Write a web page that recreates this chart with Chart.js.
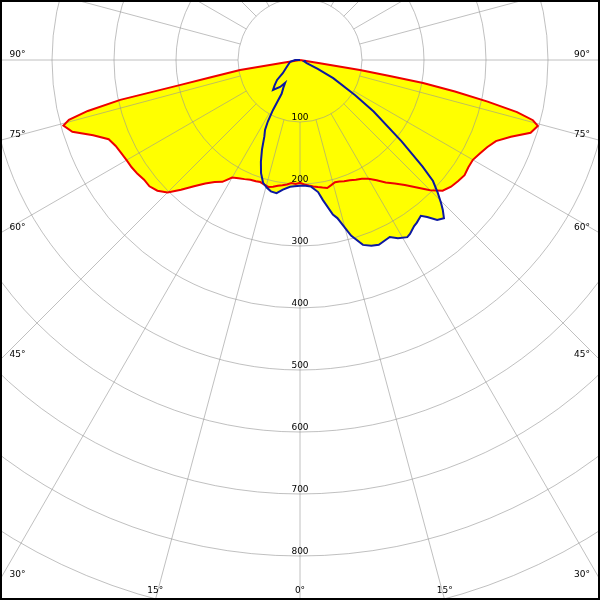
<!DOCTYPE html>
<html>
<head>
<meta charset="utf-8">
<script src="https://cdn.jsdelivr.net/npm/chart.js@4.4.1/dist/chart.umd.min.js"></script>
<style>
  body { margin: 0; background: #fff; }
  canvas { display: block; }
</style>
</head>
<body>
<canvas id="polar-chart" width="600" height="600"></canvas>
<script>
// Luminous intensity (cd) vs gamma angle, per half-plane
const redLeftAngles  = [0, 2, 4, 6, 8, 10, 12, 14, 16, 18, 20, 22.5, 25, 27.5, 30, 32.5, 35, 37.5, 40, 42.5, 45, 47.5, 50, 52.5, 55, 57.5, 60, 62.5, 65, 67.5, 70, 72.5, 74.5, 75.5, 76.5, 77.5, 78.2, 79, 80.5, 81, 82, 90];
const redLeftValues  = [198, 200, 199, 202, 204, 206, 209, 211, 209, 207, 208, 209, 212, 215, 219, 233, 240, 251, 266, 284, 302, 312, 317, 317, 320, 322, 323, 325, 328, 334, 355, 385, 396, 385, 352, 297, 200, 148, 98, 30, 0, 0];
const redRightAngles = [0, 2, 4, 6, 8, 10, 12, 14, 16, 18, 20, 22.5, 25, 27.5, 30, 32.5, 35, 37.5, 40, 42.5, 45, 47.5, 50, 52.5, 55, 57.5, 60, 62.5, 65, 67.5, 70, 72.5, 74.5, 75.5, 76.5, 77.5, 78.5, 79.4, 79.9, 80.5, 81, 82, 90];
const redRightValues = [198, 201, 203, 205, 207, 209, 211, 208, 205, 206, 208, 210, 213, 216, 221, 230, 241, 251, 263, 279, 297, 312, 318, 321, 324, 322, 322, 327, 333, 342, 362, 390, 398, 388, 360, 310, 255, 202, 147, 98, 30, 0, 0];

const blueLeftAngles  = [0, 2.5, 4.5, 7.5, 10, 12.5, 14.5, 16.7, 19, 21, 23, 25, 26.6, 27.6, 28.4, 28.6, 31, 33, 36.5, 42, 45, 49, 52.6, 60, 67.4, 80, 90, 180];
const blueLeftValues  = [203, 204, 205, 211, 218, 217, 213, 207, 193, 176, 157, 136, 126, 112, 92, 62, 52, 44, 54, 65, 58, 49, 35, 26, 21, 16, 8, 0];
const blueRightAngles = [0, 2.5, 5, 7.8, 9.3, 12, 13.3, 16.2, 18.8, 21, 23.1, 25.9, 26.9, 28.8, 31.2, 32.3, 34.5, 35.7, 37.8, 39, 40.6, 42.3, 43.6, 44.6, 46.1, 47.7, 49, 51.3, 55, 57.5, 61.4, 63.4, 65, 70, 90];
const blueRightValues = [203, 203, 205, 215, 229, 255, 262, 295, 315, 321, 324, 321, 320, 328, 334, 332, 325, 323, 318, 326, 340, 345, 334, 324, 308, 290, 262, 210, 145, 105, 61, 32, 12, 8, 8];

const ringValues  = [100, 200, 300, 400, 500, 600, 700, 800, 900, 1000];
const ringLabels  = ['100', '200', '300', '400', '500', '600', '700', '800'];
const spokeAngles = [0, 15, 30, 45, 60, 75, 90, 105, 120, 135, 150, 165, 180, 195, 210, 225, 240, 255, 270, 285, 300, 315, 330, 345];
const angleLabels = [0, 15, 30, 45, 60, 75, 90];

const PX_PER_CD = 0.62;
const gridColor = 'rgba(150,150,150,0.6)';

function toXY(angles, values, side) {
    return angles.map((a, i) => {
        const rad = a * Math.PI / 180;
        return { x: side * values[i] * Math.sin(rad), y: values[i] * Math.cos(rad) };
    });
}

// left half from 90 down to 0, then right half from 0 up to 90
function buildCurve(lA, lV, rA, rV) {
    const left = toXY(lA, lV, -1).reverse();
    const right = toXY(rA, rV, 1);
    return left.concat(right.slice(1));
}

const polarGrid = {
    id: 'polarGrid',
    beforeDatasetsDraw(chart) {
        const { ctx, scales: { x, y } } = chart;
        const cx = x.getPixelForValue(0), cy = y.getPixelForValue(0);
        ctx.save();
        ctx.strokeStyle = gridColor;
        ctx.lineWidth = 1;
        ringValues.forEach(v => {
            ctx.beginPath();
            ctx.arc(cx, cy, x.getPixelForValue(v) - cx, 0, Math.PI * 2);
            ctx.stroke();
        });
        const r0 = ringValues[0], r1 = 1200;
        spokeAngles.forEach(a => {
            const s = Math.sin(a * Math.PI / 180), c = Math.cos(a * Math.PI / 180);
            ctx.beginPath();
            ctx.moveTo(x.getPixelForValue(r0 * s), y.getPixelForValue(r0 * c));
            ctx.lineTo(x.getPixelForValue(r1 * s), y.getPixelForValue(r1 * c));
            ctx.stroke();
        });
        ctx.restore();
    },
    afterDatasetsDraw(chart) {
        const { ctx, chartArea: area, scales: { x, y } } = chart;
        const cx = x.getPixelForValue(0), cy = y.getPixelForValue(0);
        ctx.save();
        ctx.fillStyle = '#000';
        ctx.font = '9px "DejaVu Sans"';
        ctx.textBaseline = 'alphabetic';

        // intensity labels along the 0 deg axis
        ctx.textAlign = 'center';
        ringLabels.forEach(t => {
            const py = y.getPixelForValue(Number(t));
            if (py < area.bottom) ctx.fillText(t, cx, py - 2.5);
        });

        // angle labels where the spokes leave the frame
        angleLabels.forEach(a => {
            const sides = a === 0 ? [1] : [-1, 1];
            sides.forEach(side => {
                const dx = side * Math.sin(a * Math.PI / 180), dy = Math.cos(a * Math.PI / 180);
                const tx = Math.abs(dx) > 1e-9 ? (side > 0 ? area.right - cx : cx - area.left) / Math.abs(dx) : Infinity;
                const ty = dy > 1e-9 ? (area.bottom - cy) / dy : Infinity;
                const text = a + '°';
                if (tx <= ty) {
                    const py = cy + dy * tx;
                    ctx.textAlign = side < 0 ? 'left' : 'right';
                    ctx.fillText(text, side < 0 ? area.left + 9.5 : area.right - 10, py - 3);
                } else {
                    ctx.textAlign = 'center';
                    ctx.fillText(text, cx + dx * ty, area.bottom - 7.5);
                }
            });
        });
        ctx.restore();
    },
    afterDraw(chart) {
        const { ctx, width, height } = chart;
        ctx.save();
        ctx.fillStyle = '#000';
        ctx.fillRect(0, 0, width, 2);
        ctx.fillRect(0, height - 2, width, 2);
        ctx.fillRect(0, 0, 2, height);
        ctx.fillRect(width - 2, 0, 2, height);
        ctx.restore();
    }
};

const ctx = document.getElementById('polar-chart').getContext('2d');

new Chart(ctx, {
    type: 'scatter',
    data: {
        datasets: [
            {
                label: 'C90 - C270',
                data: buildCurve(blueLeftAngles, blueLeftValues, blueRightAngles, blueRightValues),
                showLine: true,
                borderColor: '#0c18a0',
                borderWidth: 2,
                backgroundColor: '#ffff00',
                fill: 'shape',
                pointRadius: 0,
                tension: 0,
            },
            {
                label: 'C0 - C180',
                data: buildCurve(redLeftAngles, redLeftValues, redRightAngles, redRightValues),
                showLine: true,
                borderColor: '#ee0000',
                borderWidth: 2,
                backgroundColor: '#ffff00',
                fill: 'shape',
                pointRadius: 0,
                tension: 0,
            }
        ]
    },
    options: {
        responsive: false,
        animation: false,
        layout: { padding: 0 },
        scales: {
            x: { type: 'linear', display: false, min: -300 / PX_PER_CD, max: 300 / PX_PER_CD },
            y: { type: 'linear', display: false, reverse: true, min: -60 / PX_PER_CD, max: 540 / PX_PER_CD }
        },
        plugins: {
            legend: { display: false },
            tooltip: { enabled: false },
            filler: { drawTime: 'beforeDraw' }
        }
    },
    plugins: [polarGrid]
});
</script>
</body>
</html>
